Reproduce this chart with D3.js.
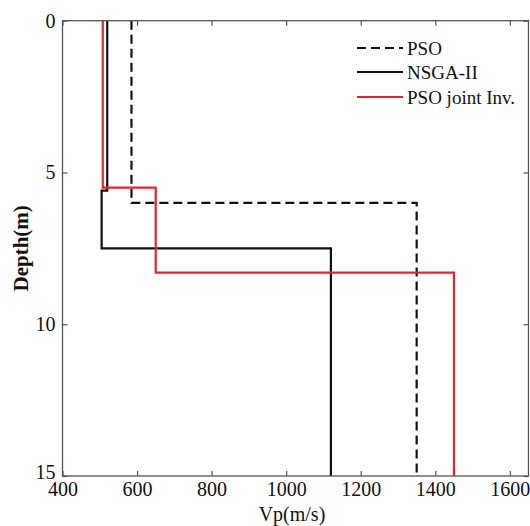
<!DOCTYPE html>
<html>
<head>
<meta charset="utf-8">
<script src="https://cdn.jsdelivr.net/npm/d3@7"></script>
<style>
  html, body { margin: 0; padding: 0; background: #fff; }
  svg { display: block; }
  text { font-family: "Liberation Serif", "Times New Roman", serif; fill: #111; }
</style>
</head>
<body>
<svg id="chart" width="530" height="526"></svg>
<script>
// Layered velocity models: Vp of each layer and the depths of the layer boundaries (m)
const psoVp = [585, 1350];
const psoDepths = [0, 6, 15];

const nsgaVp = [520, 505, 1120];
const nsgaDepths = [0, 5.6, 7.5, 15];

const jointVp = [508, 650, 1450];
const jointDepths = [0, 5.5, 8.3, 15];

const xTicks = [400, 600, 800, 1000, 1200, 1400, 1600];
const yTicks = [0, 5, 10, 15];
const xDomain = [400, 1650];
const yDomain = [0, 15];

const seriesNames = ["PSO", "NSGA-II", "PSO joint Inv."];

const series = [
  { name: seriesNames[0], vp: psoVp, depths: psoDepths, color: "#111", dash: "9,5" },
  { name: seriesNames[1], vp: nsgaVp, depths: nsgaDepths, color: "#111", dash: null },
  { name: seriesNames[2], vp: jointVp, depths: jointDepths, color: "#e3262b", dash: null }
];

const margin = { top: 20.7, right: 1.5, bottom: 50, left: 62.5 };
const W = 530, H = 526;
const iw = W - margin.left - margin.right;
const ih = H - margin.top - margin.bottom;

const svg = d3.select("#chart");
const g = svg.append("g").attr("transform", `translate(${margin.left},${margin.top})`);

const x = d3.scaleLinear().domain(xDomain).range([0, iw]);
const y = d3.scaleLinear().domain(yDomain).range([0, ih]);

// Turn a layered model into a staircase of (vp, depth) vertices
function profile(vp, depths) {
  const pts = [];
  vp.forEach((v, i) => {
    pts.push([v, depths[i]]);
    pts.push([v, depths[i + 1]]);
  });
  return pts;
}

const line = d3.line().x(d => x(d[0])).y(d => y(d[1]));

const marks = g.append("g");
series.forEach(s => {
  marks.append("path")
    .attr("d", line(profile(s.vp, s.depths)))
    .attr("fill", "none")
    .attr("stroke", s.color)
    .attr("stroke-width", 2.2)
    .attr("stroke-dasharray", s.dash)
    .attr("stroke-linejoin", "miter");
});

// Axes with inward ticks on all four sides
const axisColor = "#555";
const fs = "20px";
const fmt = d3.format("d");

const axBottom = g.append("g").attr("transform", `translate(0,${ih})`)
  .call(d3.axisBottom(x).tickValues(xTicks).tickFormat(fmt).tickSize(-5).tickSizeOuter(0).tickPadding(6));
const axTop = g.append("g")
  .call(d3.axisTop(x).tickValues(xTicks).tickSize(-5).tickSizeOuter(0).tickFormat(""));
const axLeft = g.append("g")
  .call(d3.axisLeft(y).tickValues(yTicks).tickFormat(fmt).tickSize(-5).tickSizeOuter(0).tickPadding(7));
const axRight = g.append("g").attr("transform", `translate(${iw},0)`)
  .call(d3.axisRight(y).tickValues(yTicks).tickSize(-5).tickSizeOuter(0).tickFormat(""));

[axBottom, axTop, axLeft, axRight].forEach(a => {
  a.select(".domain").remove();
  a.selectAll(".tick line").attr("stroke", axisColor).attr("stroke-width", 1.2);
  a.selectAll(".tick text").attr("font-size", fs).attr("font-family", "Liberation Serif").attr("fill", "#111");
});

// the lowest depth label sits just above the corner so it clears the first Vp label
axLeft.selectAll(".tick text").filter(d => d === yDomain[1]).attr("dy", "0.12em");

g.append("rect")
  .attr("x", 0).attr("y", 0).attr("width", iw).attr("height", ih)
  .attr("fill", "none").attr("stroke", axisColor).attr("stroke-width", 1.3);

// Axis titles
svg.append("text")
  .attr("x", 292).attr("y", 521)
  .attr("text-anchor", "middle")
  .attr("font-size", "20px")
  .text("Vp(m/s)");

svg.append("text")
  .attr("transform", `translate(28,${margin.top + ih / 2}) rotate(-90)`)
  .attr("text-anchor", "middle")
  .attr("font-size", "21px")
  .attr("font-weight", "bold")
  .text("Depth(m)");

// Legend
const legend = svg.append("g");
const legendY = [48, 72, 97];
series.forEach((s, i) => {
  legend.append("line")
    .attr("x1", 357).attr("x2", 403)
    .attr("y1", legendY[i]).attr("y2", legendY[i])
    .attr("stroke", s.color)
    .attr("stroke-width", 2.2)
    .attr("stroke-dasharray", s.dash);
  legend.append("text")
    .attr("x", 407).attr("y", legendY[i])
    .attr("dy", "0.35em")
    .attr("font-size", "19px")
    .text(s.name);
});
</script>
</body>
</html>
